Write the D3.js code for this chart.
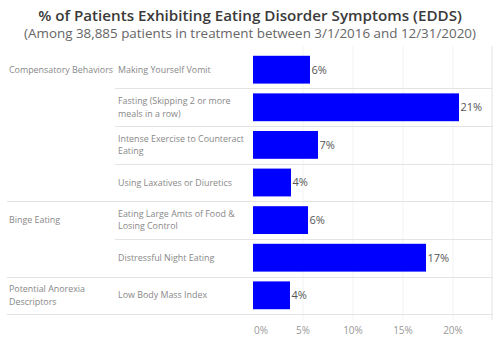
<!DOCTYPE html>
<html>
<head>
<meta charset="utf-8">
<script src="https://cdn.jsdelivr.net/npm/d3@7"></script>
<style>
  body { margin: 0; background: #fff; }
  text { font-family: "Open Sans", sans-serif; }
</style>
</head>
<body>
<svg id="chart" width="500" height="342"></svg>
<script>
// chart data
const groups = ["Compensatory Behaviors", "Compensatory Behaviors", "Compensatory Behaviors", "Compensatory Behaviors",
                "Binge Eating", "Binge Eating", "Potential Anorexia Descriptors"];
const groupLabels = [["Compensatory Behaviors"], ["Binge Eating"], ["Potential Anorexia", "Descriptors"]];
const symptoms = [
  ["Making Yourself Vomit"],
  ["Fasting (Skipping 2 or more", "meals in a row)"],
  ["Intense Exercise to Counteract", "Eating"],
  ["Using Laxatives or Diuretics"],
  ["Eating Large Amts of Food &", "Losing Control"],
  ["Distressful Night Eating"],
  ["Low Body Mass Index"]
];
const pct = [5.7, 20.6, 6.5, 3.8, 5.5, 17.3, 3.7];
const xTicks = [0, 5, 10, 15, 20];

const svg = d3.select("#chart");

// title
svg.append("text")
    .attr("x", 250).attr("y", 21)
    .attr("text-anchor", "middle")
    .attr("font-size", 15.2)
    .attr("font-weight", 600)
    .attr("fill", "#3a3a3a")
    .text("% of Patients Exhibiting Eating Disorder Symptoms (EDDS)");

svg.append("text")
    .attr("x", 250).attr("y", 38)
    .attr("text-anchor", "middle")
    .attr("font-size", 13.4)
    .attr("fill", "#666")
    .text("(Among 38,885 patients in treatment between 3/1/2016 and 12/31/2020)");

// scales
const idx = d3.range(pct.length);
const y = d3.scaleBand().domain(idx).range([46, 319]).padding(0.26);
const x = d3.scaleLinear().domain([0, 24]).range([253, 493]);

const lineColor = "#e3e3e3";

// vertical grid lines
svg.append("g")
  .selectAll("line")
  .data(xTicks.slice(1))
  .join("line")
    .attr("x1", d => x(d)).attr("x2", d => x(d))
    .attr("y1", 46).attr("y2", 320)
    .attr("stroke", "#f3f3f3");

svg.append("line")
    .attr("x1", 492).attr("x2", 492)
    .attr("y1", 46).attr("y2", 320)
    .attr("stroke", lineColor);

// row separators, full width where a group ends
const rowBottom = i => Math.round(y(i) + y.bandwidth() + y.step() * y.padding() / 2) + 0.5;
svg.append("g")
  .selectAll("line")
  .data(idx)
  .join("line")
    .attr("x1", i => (i === pct.length - 1 || groups[i] !== groups[i + 1]) ? 7 : 115)
    .attr("x2", 492)
    .attr("y1", rowBottom)
    .attr("y2", rowBottom)
    .attr("stroke", lineColor);

// bars
svg.append("g")
  .selectAll("rect")
  .data(idx)
  .join("rect")
    .attr("x", x(0))
    .attr("y", i => y(i))
    .attr("width", i => x(pct[i]) - x(0))
    .attr("height", y.bandwidth())
    .attr("fill", "#0000ff");

// value labels
svg.append("g")
  .selectAll("text")
  .data(idx)
  .join("text")
    .attr("x", i => x(pct[i]) + 1.5)
    .attr("y", i => y(i) + y.bandwidth() / 2)
    .attr("dy", "0.35em")
    .attr("font-size", 11)
    .attr("fill", "#555")
    .text(i => Math.round(pct[i]) + "%");

// symptom labels
const sym = svg.append("g");
idx.forEach(i => {
  const lines = symptoms[i];
  const cy = y(i) + y.bandwidth() / 2;
  const t = sym.append("text")
      .attr("font-size", 8.9)
      .attr("fill", "#888");
  lines.forEach((s, k) => {
    t.append("tspan")
      .attr("x", 118)
      .attr("y", cy + (k - (lines.length - 1) / 2) * 12.4)
      .attr("dy", "0.35em")
      .text(s);
  });
});

// group labels, placed on first row of each group
const firstRows = idx.filter(i => i === 0 || groups[i] !== groups[i - 1]);
firstRows.forEach((i, g) => {
  const lines = groupLabels[g];
  const cy = y(i) + y.bandwidth() / 2;
  const t = svg.append("text")
      .attr("font-size", 8.9)
      .attr("fill", "#888");
  lines.forEach((s, k) => {
    t.append("tspan")
      .attr("x", 9)
      .attr("y", cy + (k - (lines.length - 1) / 2) * 12.4)
      .attr("dy", "0.35em")
      .text(s);
  });
});

// x axis labels
svg.append("g")
  .selectAll("text")
  .data(xTicks)
  .join("text")
    .attr("x", d => d === 0 ? x(d) + 8 : x(d))
    .attr("y", 334)
    .attr("text-anchor", "middle")
    .attr("font-size", 10)
    .attr("fill", "#999")
    .text(d => d + "%");
</script>
</body>
</html>
